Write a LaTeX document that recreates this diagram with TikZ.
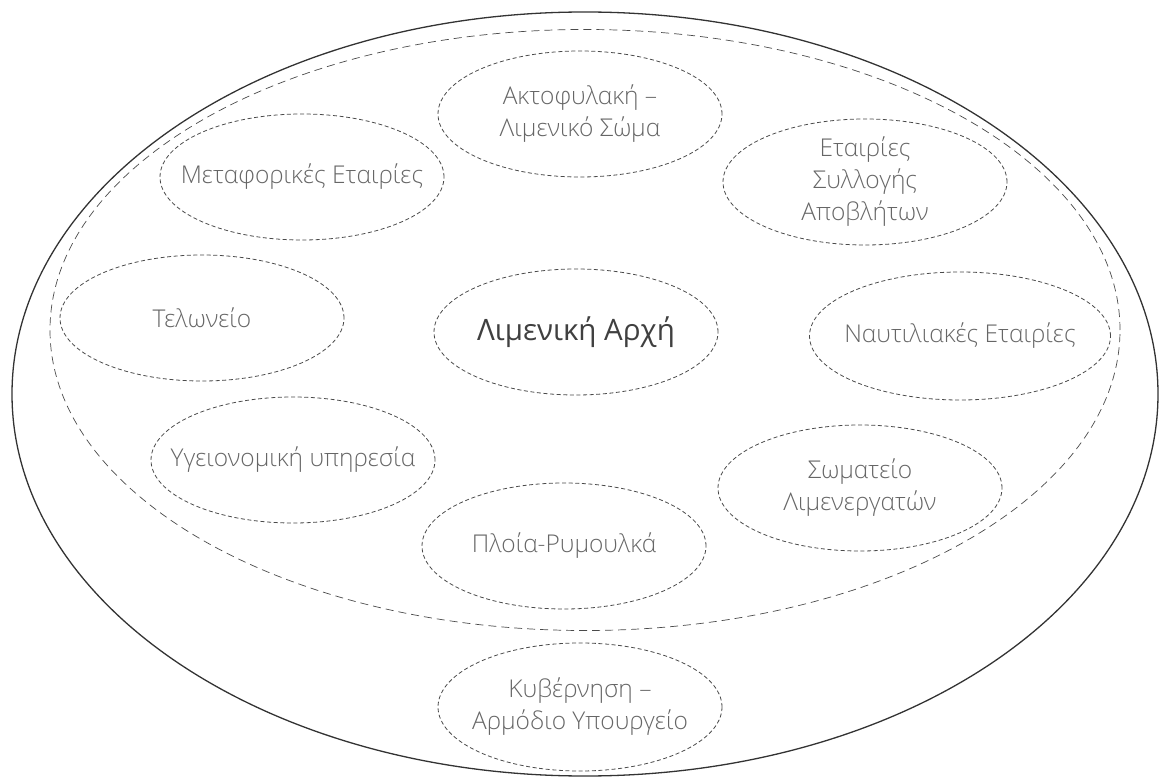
\documentclass[tikz,border=0pt]{standalone}
\usepackage{fontspec}
\setmainfont{Open Sans}[UprightFont={* Light}]
\newfontfamily\titlefont{Open Sans}
\usetikzlibrary{shapes.geometric}
\definecolor{linegray}{HTML}{4A4A4A}
\definecolor{textgray}{HTML}{666666}
\definecolor{titlegray}{HTML}{404040}
\tikzset{
  actor/.style={ellipse, draw=linegray, line width=0.8pt,
    dash pattern=on 4pt off 2.6pt, inner sep=0pt,
    minimum width=284pt, minimum height=126pt},
  caption/.style={text=textgray, font=\fontsize{24.5}{32}\selectfont,
    align=center, inner sep=0pt},
  title/.style={caption, text=titlegray, font=\titlefont\fontsize{29.5}{34}\selectfont},
  frame/.style={ellipse, draw=linegray, inner sep=0pt},
}
\begin{document}
\begin{tikzpicture}[x=1pt,y=-1pt]
\useasboundingbox (0,0) rectangle (1160,778);
% outer boundary and inner dashed boundary
\node[frame, line width=1.3pt, draw=black!80, minimum width=1146pt, minimum height=764pt] (outer) at (585,394) {};
\node[frame, line width=0.7pt, dash pattern=on 8pt off 5pt, minimum width=1070pt, minimum height=601pt] (inner) at (585,330) {};
% actor ellipses
\node[actor] (coast) at (580,114) {};
\node[actor] (transport) at (302,177) {};
\node[actor] (waste) at (865,182) {};
\node[actor] (customs) at (202,318) {};
\node[actor] (authority) at (576,332) {};
\node[actor, minimum width=301pt, minimum height=128pt] (shipping) at (960,336) {};
\node[actor] (health) at (293,460) {};
\node[actor] (ships) at (564,546) {};
\node[actor] (dockers) at (860,488) {};
\node[actor, minimum height=128pt] (gov) at (580,707) {};
% actor names
\node[caption] (coast-t) at (coast) {Ακτοφυλακή –\\Λιμενικό Σώμα};
\node[caption] (transport-t) at (transport) {Μεταφορικές Εταιρίες};
\node[caption] (waste-t) at (waste) {Εταιρίες\\Συλλογής\\Αποβλήτων};
\node[caption] (customs-t) at (customs) {Τελωνείο};
\node[title] (authority-t) at (authority) {Λιμενική Αρχή};
\node[caption] (shipping-t) at (shipping) {Ναυτιλιακές Εταιρίες};
\node[caption] (health-t) at (health) {Υγειονομική υπηρεσία};
\node[caption] (ships-t) at (ships) {Πλοία-Ρυμουλκά};
\node[caption] (dockers-t) at (dockers) {Σωματείο\\Λιμενεργατών};
\node[caption] (gov-t) at (gov) {Κυβέρνηση –\\Αρμόδιο Υπουργείο};
\end{tikzpicture}
\end{document}
